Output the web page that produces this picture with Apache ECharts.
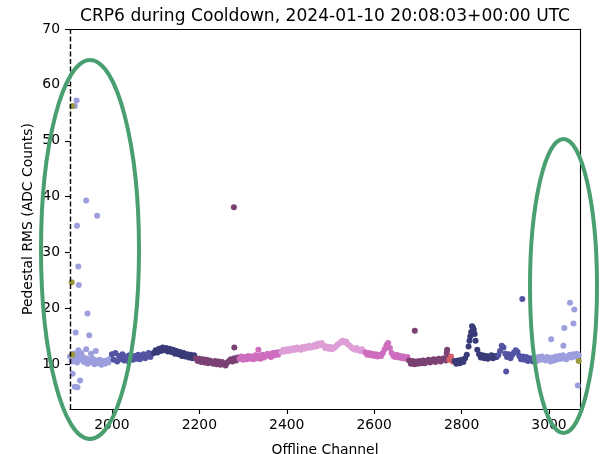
<!DOCTYPE html>
<html>
<head>
<meta charset="utf-8">
<script src="https://cdn.jsdelivr.net/npm/echarts@6/dist/echarts.min.js"></script>
<style>html,body{margin:0;padding:0;background:#fff}#c{width:600px;height:454px}</style>
</head>
<body>
<div id="c"></div>
<script>
// ---- data ----
const titleText = "CRP6 during Cooldown, 2024-01-10 20:08:03+00:00 UTC";
const xTicks = [2000, 2200, 2400, 2600, 2800, 3000];
const yTicks = [10, 20, 30, 40, 50, 60, 70];
const channelStep = 4;

// segment start channels and values (one value every 4 channels)
const periAStart = 1904;
const periA = [11.4,10.5,11.9,11.0,10.3,11.6,10.8,11.4,10.4,11.1,10.1,10.9,10.3,11.0,10.0,10.7,10.2,10.8,9.9,10.6,10.1,10.7,10.3,11.0];
const blueAStart = 2000;
const blueA = [11.8,10.8,12.0,10.5,11.5,10.9,11.8,10.7,11.4,10.6,11.6,10.9,10.8,11.5,11.0,11.7,10.9,11.4,11.8,11.1,11.6,12.0,11.3,11.9];
const navyAStart = 2096;
const navyA = [12.0,12.5,12.1,12.8,12.4,13.0,12.5,12.9,12.3,12.8,12.2,12.6,11.9,12.4,11.8,12.2,11.5,12.0,11.4,11.8,11.2,11.7,11.1,11.6];
const plumAStart = 2192;
const plumA = [11.1,10.6,11.0,10.4,10.9,10.3,10.8,10.2,10.7,10.3,10.1,10.6,10.0,10.5,9.9,10.4,10.0,9.8,10.3,10.6,10.9,10.5,11.1,10.7,11.2];
const pinkAStart = 2292;
const pinkA = [11.0,11.4,10.8,11.3,10.9,11.5,11.0,11.4,10.9,11.6,11.1,11.5,11.0,11.7,11.2,11.6,11.9,11.5,11.3,12.0,11.6,12.1,11.7,12.2];
const lightAStart = 2388;
const lightA = [12.2,12.6,12.3,12.7,12.4,12.8,12.5,12.9,12.6,13.0,12.7,12.6,13.1,12.8,13.2,12.9,13.3,13.0,13.1,13.5,13.2,13.7,13.4,13.8,13.3,12.9,13.2,12.8,13.1,12.7,12.9,13.2,13.5,13.7,14.0,14.2,13.9,14.1,13.6,13.3,13.0,12.8,12.6,12.9,12.5,12.4,12.7,12.3];
const pinkBStart = 2580;
const pinkB = [12.1,11.7,12.0,11.6,11.9,11.5,11.8,11.4,11.7,11.5,12.0,12.7,13.4,13.8,12.9,12.0,11.5,11.3,11.7,11.2,11.5,11.1,11.4,11.0,11.3];
const plumBStart = 2680;
const plumB = [10.7,10.1,10.6,10.0,10.5,10.1,10.6,10.2,10.7,10.2,10.6,10.8,10.3,10.7,10.9,10.4,10.8,11.0,10.5,10.9,11.1,10.7,11.2];
const redAStart = 2772;
const redA = [10.8,11.4,10.5];
const navyBStart = 2784;
const navyB = [10.6,10.1,10.7,10.2,10.8,10.4,11.1,11.7,13.2,15.0,16.8,16.2,14.2,12.6,11.8,11.2,11.6,11.1,11.5,11.0,11.4,11.6,11.1,11.5,11.3];
const blueBStart = 2884;
const blueB = [11.6,12.4,13.3,13.0,11.9,11.3,11.8,11.1,11.7,12.1,12.5,12.2,11.5,10.9,11.4,10.8,11.3,10.6,11.1,10.7,10.5];
const periBStart = 2968;
const periB = [11.1,10.6,11.3,10.8,11.4,10.9,10.7,11.3,10.8,10.5,11.2,10.7,11.4,10.9,11.5,11.0,11.6,11.1,10.9,11.5,11.7,11.2,11.8,11.4,11.9,11.6];

// individual points [channel, rms]
const periAExtra = [[1919,57.2],[1915,56.2],[1941,39.3],[1966,36.6],[1920,34.8],[1923,27.5],[1924,24.2],[1944,19.1],[1917,15.7],[1948,15.2],[1941,12.7],[1923,12.5],[1963,12.4],[1930,12.0],[1952,11.9],[1910,8.3],[1927,7.1],[1915,6.0],[1921,5.9]];
const oliveExtra = [[1909,56.2],[1908,24.7],[1909,11.7],[3068,10.6]];
const plumAExtra = [[2279,38.1],[2280,13.0]];
const pinkAExtra = [[2335,12.6]];
const plumBExtra = [[2693,16.0],[2767,12.6],[2766,12.0]];
const navyBExtra = [[2818,14.2],[2822,15.8],[2826,16.6],[2830,15.4]];
const blueBExtra = [[2902,8.7],[2939,21.7]];
const periBExtra = [[3005,14.5],[3033,13.3],[3035,16.5],[3056,17.3],[3058,19.8],[3048,21.0],[3066,6.2]];

// ---- build ----
function seg(start, vals, extra) {
  const d = vals.map((v, i) => [start + i * channelStep, v]);
  return extra ? d.concat(extra) : d;
}
const groups = [
  {data: seg(periAStart, periA, periAExtra), color: '#9c9ede'},
  {data: seg(blueAStart, blueA), color: '#5254a3'},
  {data: seg(navyAStart, navyA), color: '#393b79'},
  {data: seg(plumAStart, plumA, plumAExtra), color: '#7b4173'},
  {data: seg(pinkAStart, pinkA, pinkAExtra), color: '#ce6dbd'},
  {data: seg(lightAStart, lightA), color: '#de9ed6'},
  {data: seg(pinkBStart, pinkB), color: '#ce6dbd'},
  {data: seg(plumBStart, plumB, plumBExtra), color: '#7b4173'},
  {data: seg(redAStart, redA), color: '#d6616b'},
  {data: seg(navyBStart, navyB, navyBExtra), color: '#393b79'},
  {data: seg(blueBStart, blueB, blueBExtra), color: '#5254a3'},
  {data: seg(periBStart, periB, periBExtra), color: '#9c9ede'},
  {data: oliveExtra, color: '#9a9b3e'}
];

const FONT = 'DejaVu Sans';
const series = groups.map((g, i) => ({
  type: 'scatter',
  data: g.data,
  symbolSize: 6,
  itemStyle: {color: g.color, opacity: 1},
  emphasis: {disabled: true},
  silent: true,
  z: 2 + i * 0.01
}));
series[0].markLine = {
  silent: true,
  symbol: ['none', 'none'],
  label: {show: false},
  lineStyle: {color: '#000', type: [5, 2.5], width: 1.4},
  data: [{xAxis: periAStart}],
  animation: false
};

const plain = v => String(v);
const chart = echarts.init(document.getElementById('c'), null, {renderer: 'canvas'});
chart.setOption({
  animation: false,
  backgroundColor: '#fff',
  textStyle: {fontFamily: FONT},
  title: {
    text: titleText,
    left: 320, top: 3, textAlign: 'center',
    textStyle: {fontFamily: FONT, fontSize: 17.1, fontWeight: 'normal', color: '#000'}
  },
  grid: {left: 70, right: 20, top: 29, bottom: 45, containLabel: false, outerBoundsMode: 'none'},
  xAxis: [{
    type: 'value', min: 1904, max: 3071,
    name: 'Offline Channel', nameLocation: 'middle', nameGap: 34, nameMoveOverlap: false,
    nameTextStyle: {fontFamily: FONT, fontSize: 13.9, color: '#000'},
    axisLine: {show: true, lineStyle: {color: '#000', width: 1.1}},
    axisTick: {show: true, inside: false, length: 5, lineStyle: {color: '#000', width: 1.1}, customValues: xTicks},
    axisLabel: {color: '#000', fontFamily: FONT, fontSize: 13.9, margin: 9, customValues: xTicks, formatter: plain},
    splitLine: {show: false}
  }, {
    type: 'value', position: 'top', min: 1904, max: 3071,
    axisLine: {show: true, onZero: false, lineStyle: {color: '#000', width: 1.1}},
    axisTick: {show: false}, axisLabel: {show: false}, splitLine: {show: false}
  }],
  yAxis: [{
    type: 'value', min: 2, max: 70,
    name: 'Pedestal RMS (ADC Counts)', nameLocation: 'middle', nameGap: 35, nameRotate: 90, nameMoveOverlap: false,
    nameTextStyle: {fontFamily: FONT, fontSize: 13.9, color: '#000'},
    axisLine: {show: false},
    axisTick: {show: true, inside: false, length: 5, lineStyle: {color: '#000', width: 1.1}, customValues: yTicks},
    axisLabel: {color: '#000', fontFamily: FONT, fontSize: 13.9, margin: 10, customValues: yTicks, formatter: plain},
    splitLine: {show: false}
  }, {
    type: 'value', position: 'right', min: 2, max: 70,
    axisLine: {show: true, onZero: false, lineStyle: {color: '#000', width: 1.1}},
    axisTick: {show: false}, axisLabel: {show: false}, splitLine: {show: false}
  }],
  series: series,
  graphic: [
    {type: 'ellipse', shape: {cx: 90, cy: 249.5, rx: 49, ry: 189.5}, style: {fill: 'none', stroke: '#4a9f70', lineWidth: 4}, z: 100, silent: true},
    {type: 'ellipse', shape: {cx: 563.5, cy: 286, rx: 33.5, ry: 147}, style: {fill: 'none', stroke: '#4a9f70', lineWidth: 4}, z: 100, silent: true}
  ]
});
</script>
</body>
</html>
